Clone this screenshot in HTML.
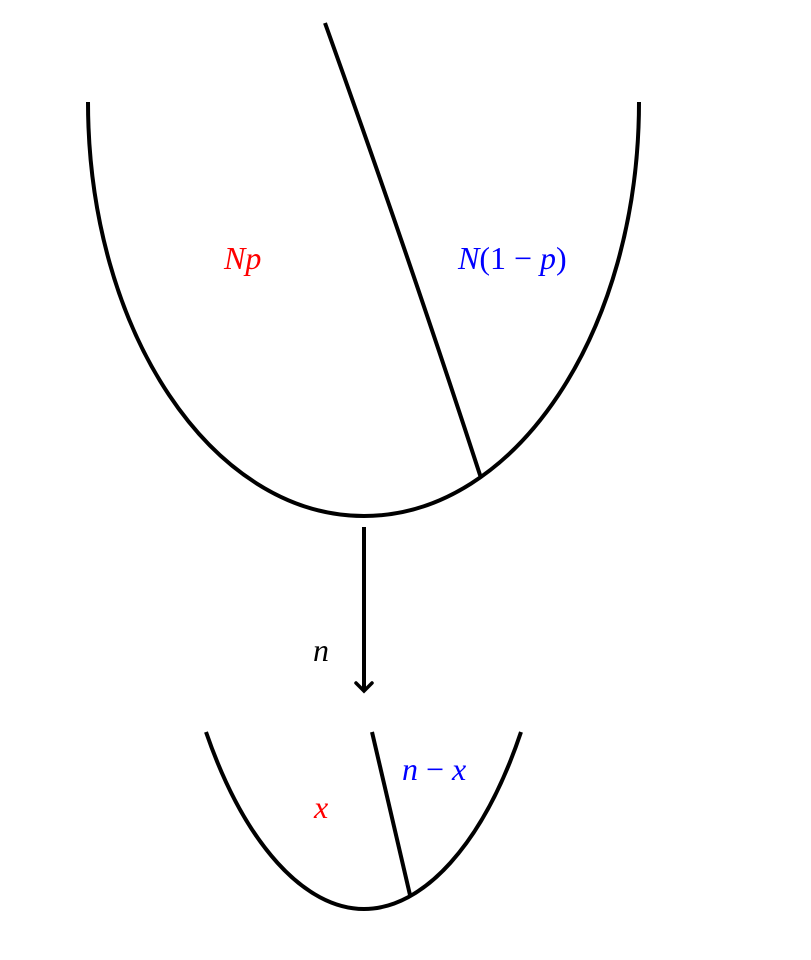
<!DOCTYPE html>
<html><head><style>body{margin:0;background:#fff}svg{display:block}
text{font-family:"Liberation Serif",serif;font-style:italic;font-size:32px}</style></head>
<body>
<svg width="811" height="960" viewBox="0 0 811 960">
<g fill="none" stroke="#000" stroke-width="4">
<path d="M88,102 C88,331 212,516 364,516 C516,516 639,331 639,102"/>
<path d="M325,23 Q410,260 481,478"/>
<path d="M206,732 C245,845 305,909 364,909 C423,909 483,845 521,732"/>
<path d="M372,732 L410,895"/>
<path d="M364,527 L364,690"/>
<path d="M356,683 L364,691 L372,683" stroke-width="3.5" stroke-linecap="round"/>
</g>
<text x="224" y="269" fill="#f00">Np</text>
<text x="458" y="269" fill="#00f">N<tspan font-style="normal">(1 − </tspan>p<tspan font-style="normal">)</tspan></text>
<text x="313" y="661" fill="#000">n</text>
<text x="314" y="818" fill="#f00">x</text>
<text x="402" y="780" fill="#00f">n <tspan font-style="normal">−</tspan> x</text>
</svg>
</body></html>
